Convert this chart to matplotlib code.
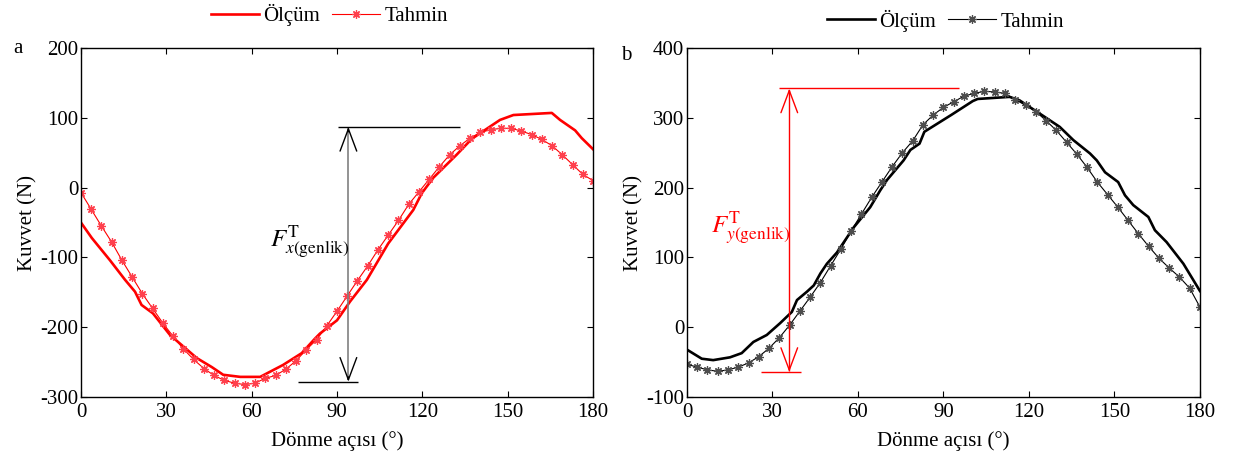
import numpy as np
import matplotlib
matplotlib.use("Agg")
from matplotlib import pyplot as plt

plt.rcParams['font.family'] = ['Liberation Serif', 'DejaVu Serif']
plt.rcParams['mathtext.fontset'] = 'stix'
plt.rcParams['axes.unicode_minus'] = False

# Tahmin (prediction) is sampled every 3.6 degrees
angle_pred = np.arange(0, 180.01, 3.6)

# Panel a: x-component of force
angle_meas_a = [0, 3.8, 10.2, 15.5, 19, 21.3, 25.3, 31.3, 40.7, 46, 50, 56, 63, 71, 77.6,
                82.3, 84, 90, 94.6, 100.5, 108, 116.8, 119.8, 123.8, 132, 137.4, 147.3,
                152, 165.5, 168.4, 173.7, 176, 180]
force_meas_a = [-50, -72, -104, -132, -149, -168, -180, -211, -244, -257, -268, -271, -271,
                -254, -237, -216, -209, -190, -163, -132, -80, -32, -8, 14, 47, 70, 97,
                104, 107, 97, 82, 71, 55]
force_pred_a = [-7, -31, -55, -78, -104, -128, -152, -173, -194, -213, -231, -246, -259,
                -269, -276, -280, -282, -280, -273, -269, -260, -248, -232, -218, -198,
                -177, -155, -133, -112, -89, -68, -47, -24, -6, 12, 30, 47, 60, 71, 79,
                83, 85, 85, 81, 76, 69, 60, 47, 33, 19, 10]

# Panel b: y-component of force
angle_meas_b = [0, 5.2, 9.2, 15.1, 19.2, 23.3, 28, 32.7, 36.8, 38.6, 42.1, 44.5, 46.8, 49.1,
                52.6, 58.5, 64.3, 67.8, 70.2, 76, 78.4, 81.6, 83.3, 92.7, 100.3, 102, 113.2,
                116.7, 123.8, 130.8, 135.6, 141.4, 143.8, 146.7, 151.3, 153.7, 156.6, 161.9,
                164.2, 168.3, 174.2, 180]
force_meas_b = [-32, -45, -47, -43, -37, -21, -11, 6, 22, 39, 51, 60, 77, 91, 107, 143, 172,
                196, 211, 239, 254, 263, 280, 304, 324, 327, 330, 325, 306, 287, 268, 249,
                239, 222, 208, 189, 175, 158, 139, 122, 91, 52]
force_pred_b = [-53, -57, -61, -63, -61, -57, -51, -42, -30, -15, 3, 23, 43, 64, 88, 112,
                138, 162, 186, 208, 230, 250, 267, 290, 304, 315, 323, 331, 335, 338, 337,
                335, 326, 318, 309, 296, 282, 265, 248, 229, 208, 190, 172, 153, 134, 116,
                99, 85, 72, 56, 29]

fig = plt.figure(figsize=(12.34, 4.57), dpi=100)
ax_a = fig.add_axes([0.0656, 0.131, 0.415, 0.764])
ax_b = fig.add_axes([0.5567, 0.131, 0.4157, 0.764])

star = (8, 2, 0)


def style_axis(ax, ylim, yticks):
    ax.set_xlim(0, 180)
    ax.set_ylim(*ylim)
    ax.set_xticks(np.arange(0, 181, 30))
    ax.set_yticks(yticks)
    ax.tick_params(direction='in', top=True, right=True, length=4, width=0.8,
                   labelsize=15)
    ax.tick_params(axis='x', pad=4)
    ax.tick_params(axis='y', pad=2)
    for s in ax.spines.values():
        s.set_linewidth(1.0)
    ax.set_xlabel('Dönme açısı (°)', fontsize=15, labelpad=7)
    ax.set_ylabel('Kuvvet (N)', fontsize=15, labelpad=2)


# ---- panel a
l1, = ax_a.plot(angle_meas_a, force_meas_a, color='red', lw=1.9)
l2, = ax_a.plot(angle_pred, force_pred_a, color='red', lw=0.8, marker=star,
                ms=6, mew=0.9, mec=(1, 0.25, 0.3))
style_axis(ax_a, (-300, 200), np.arange(-300, 201, 100))

ax_a.hlines(87, 90.5, 133.3, color='k', lw=1)
ax_a.hlines(-278, 76.4, 97.5, color='k', lw=1)
ax_a.vlines(94, -276, 85, color='0.5', lw=1.2)
for y0, y1 in [(87, 80), (-278, -271)]:
    ax_a.annotate('', xy=(94, y0), xytext=(94, y1),
                  arrowprops=dict(arrowstyle='->,head_length=0.8,head_width=0.3',
                                  color='k', lw=1, mutation_scale=20,
                                  shrinkA=0, shrinkB=0))
ax_a.text(66.5, -78, r'$F^{\mathrm{T}}_{x\mathrm{(genlik)}}$', fontsize=18,
          ha='left', va='center')

fig.legend([l1, l2], ['Ölçüm', 'Tahmin'], loc='center', bbox_to_anchor=(0.267, 0.967),
           ncol=2, frameon=False, fontsize=15, handlelength=2.3, handletextpad=0.2,
           columnspacing=0.6)
fig.text(0.011, 0.893, 'a', fontsize=15, ha='left', va='center')

# ---- panel b
l3, = ax_b.plot(angle_meas_b, force_meas_b, color='k', lw=1.9)
l4, = ax_b.plot(angle_pred, force_pred_b, color='k', lw=0.8, marker=star,
                ms=6, mew=0.9, mec=(0.3, 0.3, 0.3))
style_axis(ax_b, (-100, 400), np.arange(-100, 401, 100))

ax_b.hlines(342, 32.3, 95.6, color='red', lw=1)
ax_b.hlines(-64, 25.9, 40, color='red', lw=1)
ax_b.vlines(35.9, -62, 340, color='red', lw=1)
for y0, y1 in [(342, 335), (-64, -57)]:
    ax_b.annotate('', xy=(35.9, y0), xytext=(35.9, y1),
                  arrowprops=dict(arrowstyle='->,head_length=0.8,head_width=0.3',
                                  color='red', lw=1, mutation_scale=20,
                                  shrinkA=0, shrinkB=0))
ax_b.text(8.4, 142, r'$F^{\mathrm{T}}_{y\mathrm{(genlik)}}$', fontsize=18,
          ha='left', va='center', color='red')

fig.legend([l3, l4], ['Ölçüm', 'Tahmin'], loc='center', bbox_to_anchor=(0.766, 0.955),
           ncol=2, frameon=False, fontsize=15, handlelength=2.3, handletextpad=0.2,
           columnspacing=0.6)
fig.text(0.503, 0.878, 'b', fontsize=15, ha='left', va='center')

fig.savefig('out.png', dpi=100)
